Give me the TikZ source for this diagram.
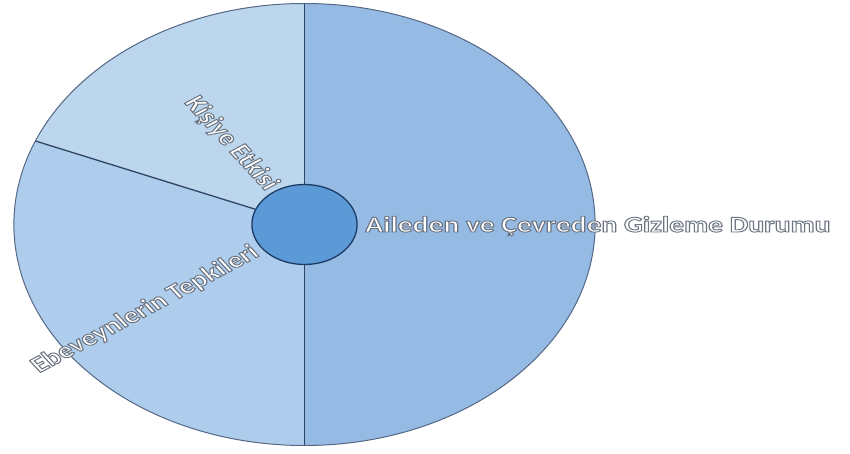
\documentclass[tikz,border=0pt]{standalone}
\usepackage{fontspec}
\setmainfont{Carlito}
\usetikzlibrary{calc}
\definecolor{rightc}{RGB}{149,187,228}
\definecolor{upc}{RGB}{188,214,238}
\definecolor{lowc}{RGB}{174,204,236}
\definecolor{hubc}{RGB}{91,154,215}
\definecolor{rimc}{RGB}{84,104,134}
\definecolor{divc}{RGB}{46,70,100}
\definecolor{hubline}{RGB}{28,58,98}
\newcommand{\outlinedtext}[1]{\special{pdf:literal direct 0.42 0.45 0.50 RG 0.9 w 2 Tr}#1\special{pdf:literal direct 0 Tr}}
\begin{document}
\begin{tikzpicture}[x=1pt,y=1pt,
  lbl/.style={font=\fontsize{22.5}{27}\selectfont\bfseries, text=white, inner sep=0pt, transform shape},
  divider/.style={draw=divc, line width=1.3pt},
  rim/.style={draw=rimc, line width=1pt},
  hub/.style={circle, minimum size=80pt, inner sep=0pt, fill=hubc, draw=hubline, line width=1.3pt, transform shape}]
\useasboundingbox (0,0) rectangle (850,-454);
\begin{scope}[shift={(304.5,-224.5)}, xscale=1.315]
  \coordinate (c) at (0,0);
  \fill[lowc] (c) circle[radius=221];
  \begin{scope}
    \clip (c) circle[radius=221];
    \fill[rightc] (0,-230) rectangle (230,230);
    \fill[upc] (c) -- (0,230) -- (-230,230) -- (157.8:300) -- cycle;
  \end{scope}
  \coordinate (top) at (90:221);
  \coordinate (bot) at (270:221);
  \coordinate (edge) at (157.8:221);
  \draw[divider] (top) -- (bot);
  \node[hub] (hub) at (c) {};
  \draw[divider] (edge) -- (hub);
  \draw[rim] (c) circle[radius=221];
  \node[lbl, rotate=-55, anchor=east] (kisiye) at (124:44) {\outlinedtext{Kişiye Etkisi}};
  \node[lbl, rotate=35, anchor=east] (ebeveyn) at (215:45) {\outlinedtext{Ebeveynlerin Tepkileri}};
  \node[lbl, anchor=base west] (aile) at (46,-7.5) {\outlinedtext{Aileden ve Çevreden Gizleme Durumu}};
\end{scope}
\end{tikzpicture}
\end{document}
